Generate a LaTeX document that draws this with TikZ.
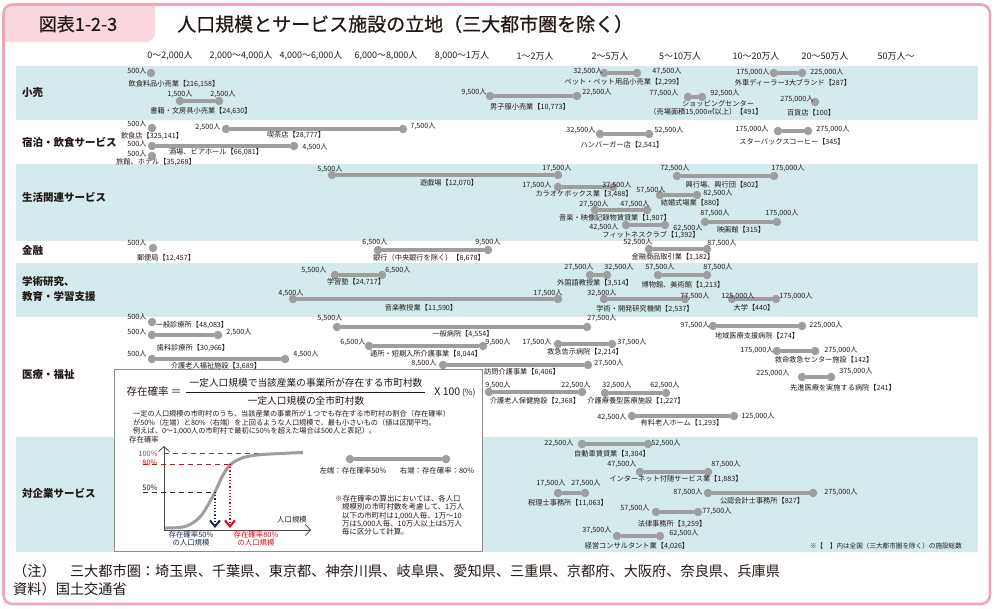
\documentclass[tikz,border=0pt]{standalone}
\usepackage{fontspec}
\setmainfont{Noto Sans CJK JP}
\newfontfamily\titlefont{Noto Sans CJK JP}[FakeBold=0.7]
\usetikzlibrary{arrows.meta}
\definecolor{pinkbd}{RGB}{240,165,185}
\definecolor{tabpink}{RGB}{250,214,222}
\definecolor{band}{RGB}{211,235,237}
\definecolor{dotgray}{RGB}{158,158,158}
\definecolor{ink}{RGB}{35,24,21}
\definecolor{redc}{RGB}{230,0,18}
\definecolor{navy}{RGB}{30,40,80}
\definecolor{boxgray}{RGB}{140,140,140}
\tikzset{
 dot/.style={circle, fill=dotgray, inner sep=0pt, minimum size=8.5pt},
 seg/.style={draw=dotgray, line width=3.3pt},
 lbl/.style={inner sep=0pt, text=ink, font=\fontsize{7.2}{8}\selectfont},
 hdr/.style={inner sep=0pt, text=ink, font=\fontsize{9}{10}\selectfont},
 cat/.style={inner sep=0pt, text=ink, anchor=west, align=left, font=\fontsize{10.5}{15}\selectfont\bfseries},
 expl/.style={inner sep=0pt, text=ink, font=\fontsize{7.4}{8.5}\selectfont},
 para/.style={inner sep=0pt, text=ink, font=\fontsize{7.2}{8.5}\selectfont},
 foot/.style={inner sep=0pt, anchor=west, text=ink, font=\fontsize{14.2}{16}\selectfont},
}
\newcommand\myrng[4]{\node[dot] (#1a) at (#2,#4) {}; \node[dot] (#1b) at (#3,#4) {}; \draw[seg] (#1a) -- (#1b);}
\newcommand\mysgl[3]{\node[dot] (#1a) at (#2,#3) {};}
\newcommand\mylb[4]{\node[lbl] (#1) at (#2,#3) {#4};}
\begin{document}
\begin{tikzpicture}[x=1pt,y=-1pt]
\useasboundingbox (0,0) rectangle (996,609);
\fill[white] (0,0) rectangle (996,609);
% title tab
\fill[tabpink, rounded corners=9pt] (5,5) rectangle (155,42);
\fill[tabpink] (5,20) rectangle (30,42);
\fill[tabpink] (130,5) rectangle (155,20);
\draw[pinkbd, line width=2.6pt, rounded corners=9pt] (3.5,4.5) rectangle (990,604);
\node[inner sep=0pt, text=ink, font=\fontsize{18}{20}\titlefont] (tabtxt) at (78,24) {図表1-2-3};
\node[inner sep=0pt, anchor=west, text=ink, font=\fontsize{19}{21}\titlefont] (title) at (177,24) {人口規模とサービス施設の立地（三大都市圏を除く）};
% bands
\fill[band] (16,66) rectangle (978,120);
\fill[band] (16,164) rectangle (978,241);
\fill[band] (16,263) rectangle (978,317);
\fill[band] (16,437) rectangle (978,552);
% headers
\node[hdr] (h1) at (170,56) {0～2,000人};
\node[hdr] (h2) at (241,56) {2,000～4,000人};
\node[hdr] (h3) at (311,56) {4,000～6,000人};
\node[hdr] (h4) at (386,56) {6,000～8,000人};
\node[hdr] (h5) at (462,56) {8,000～1万人};
\node[hdr] (h6) at (535,56) {1～2万人};
\node[hdr] (h7) at (610,56) {2～5万人};
\node[hdr] (h8) at (680,56) {5～10万人};
\node[hdr] (h9) at (756,56) {10～20万人};
\node[hdr] (h10) at (825,56) {20～50万人};
\node[hdr] (h11) at (896,56) {50万人～};
% categories
\node[cat] (c1) at (22,93) {小売};
\node[cat] (c2) at (22,142) {宿泊・飲食サービス};
\node[cat] (c3) at (22,197) {生活関連サービス};
\node[cat] (c4) at (22,250) {金融};
\node[cat] (c5) at (22,289) {学術研究、\\教育・学習支援};
\node[cat] (c6) at (22,375) {医療・福祉};
\node[cat] (c7) at (22,493) {対企業サービス};
% ---- 小売
\mysgl{A1}{151}{73} \mylb{A1l}{137}{71}{500人} \mylb{A1n}{174}{84}{飲食料品小売業【216,158】}
\myrng{A2}{180}{219}{101} \mylb{A2l}{180}{94}{1,500人} \mylb{A2r}{223}{94}{2,500人} \mylb{A2n}{201}{111}{書籍・文房具小売業【24,630】}
\myrng{A3}{604}{637}{73} \mylb{A3l}{588}{71}{32,500人} \mylb{A3r}{667}{71}{47,500人} \mylb{A3n}{624}{82}{ペット・ペット用品小売業【2,299】}
\myrng{A4}{490}{577}{96} \mylb{A4l}{474}{92}{9,500人} \mylb{A4r}{597}{92}{22,500人} \mylb{A4n}{530}{107}{男子服小売業【10,773】}
\myrng{A5}{774}{802}{73} \mylb{A5l}{753}{72}{175,000人} \mylb{A5r}{827}{72}{225,000人} \mylb{A5n}{793}{83}{外車ディーラー3大ブランド【287】}
\myrng{A6}{688}{702}{97} \mylb{A6l}{664}{93}{77,500人} \mylb{A6r}{725}{93}{92,500人} \mylb{A6n}{718}{104}{ショッピングセンター} \mylb{A6m}{706}{112}{（売場面積15,000㎡以上）【491】}
\mysgl{A7}{815}{102} \mylb{A7l}{797}{99}{275,000人} \mylb{A7n}{811}{113}{百貨店【100】}
% ---- 宿泊・飲食
\mysgl{B1}{152}{128} \mylb{B1l}{137}{124}{500人} \mylb{B1n}{152}{136}{飲食店【325,141】}
\myrng{B2}{226}{403}{129} \mylb{B2l}{208}{127}{2,500人} \mylb{B2r}{423}{126}{7,500人} \mylb{B2n}{296}{135}{喫茶店【28,777】}
\myrng{B3}{152}{294}{146} \mylb{B3l}{137}{144}{500人} \mylb{B3r}{315}{147}{4,500人} \mylb{B3n}{216}{152}{酒場、ビアホール【66,081】}
\mysgl{B4}{152}{156} \mylb{B4l}{137}{154}{500人} \mylb{B4n}{156}{162}{旅館、ホテル【35,268】}
\myrng{B5}{600}{649}{134} \mylb{B5l}{581}{130}{32,500人} \mylb{B5r}{669}{130}{52,500人} \mylb{B5n}{622}{145}{ハンバーガー店【2,541】}
\myrng{B6}{778}{808}{131} \mylb{B6l}{752}{129}{175,000人} \mylb{B6r}{833}{129}{275,000人} \mylb{B6n}{792}{142}{スターバックスコーヒー【345】}
% ---- 生活関連
\myrng{C1}{332}{558}{175} \mylb{C1l}{330}{169}{5,500人} \mylb{C1r}{557}{168}{17,500人} \mylb{C1n}{449}{183}{遊戯場【12,070】}
\myrng{C2}{558}{613}{187} \mylb{C2l}{537}{185}{17,500人} \mylb{C2r}{617}{185}{37,500人} \mylb{C2n}{584}{194}{カラオケボックス業【3,488】}
\myrng{C3}{677}{774}{176} \mylb{C3l}{675}{168}{72,500人} \mylb{C3r}{788}{168}{175,000人} \mylb{C3n}{724}{185}{興行場、興行団【802】}
\myrng{C4}{660}{697}{195} \mylb{C4l}{651}{190}{57,500人} \mylb{C4r}{718}{193}{82,500人} \mylb{C4n}{692}{203}{結婚式場業【880】}
\myrng{C5}{595}{647}{210} \mylb{C5l}{594}{204}{27,500人} \mylb{C5r}{635}{204}{47,500人} \mylb{C5n}{615}{218}{音楽・映像記録物賃貸業【1,907】}
\myrng{C6}{626}{665}{225} \mylb{C6l}{604}{227}{42,500人} \mylb{C6r}{688}{228}{62,500人} \mylb{C6n}{651}{235}{フィットネスクラブ【1,392】}
\myrng{C7}{705}{777}{222} \mylb{C7l}{715}{213}{87,500人} \mylb{C7r}{782}{213}{175,000人} \mylb{C7n}{741}{230}{映画館【315】}
% ---- 金融
\mysgl{D1}{153}{248} \mylb{D1l}{137}{243}{500人} \mylb{D1n}{166}{258}{郵便局【12,457】}
\myrng{D2}{378}{488}{250} \mylb{D2l}{375}{242}{6,500人} \mylb{D2r}{488}{242}{9,500人} \mylb{D2n}{429}{258}{銀行（中央銀行を除く）【8,678】}
\myrng{D3}{649}{707}{249} \mylb{D3l}{638}{242}{52,500人} \mylb{D3r}{722}{243}{87,500人} \mylb{D3n}{673}{257}{金融商品取引業【1,182】}
% ---- 学術・教育
\myrng{E1}{335}{382}{275} \mylb{E1l}{314}{270}{5,500人} \mylb{E1r}{398}{270}{6,500人} \mylb{E1n}{356}{282}{学習塾【24,717】}
\myrng{E2}{293}{558}{299} \mylb{E2l}{291}{293}{4,500人} \mylb{E2r}{548}{293}{17,500人} \mylb{E2n}{421}{308}{音楽教授業【11,590】}
\myrng{E3}{590}{607}{275} \mylb{E3l}{579}{267}{27,500人} \mylb{E3r}{619}{267}{32,500人} \mylb{E3n}{595}{283}{外国語教授業【3,514】}
\myrng{E4}{658}{707}{275} \mylb{E4l}{660}{267}{57,500人} \mylb{E4r}{718}{267}{87,500人} \mylb{E4n}{683}{285}{博物館、美術館【1,213】}
\myrng{E5}{604}{685}{299} \mylb{E5l}{602}{293}{32,500人} \mylb{E5r}{695}{296}{77,500人} \mylb{E5n}{645}{309}{学術・開発研究機関【2,537】}
\myrng{E6}{732}{776}{299} \mylb{E6l}{738}{296}{125,000人} \mylb{E6r}{796}{296}{175,000人} \mylb{E6n}{754}{308}{大学【440】}
% ---- 医療・福祉
\mysgl{F1}{152}{322} \mylb{F1l}{137}{317}{500人} \mylb{F1n}{192}{325}{一般診療所【48,083】}
\myrng{F2}{152}{218}{335} \mylb{F2l}{137}{332}{500人} \mylb{F2r}{239}{332}{2,500人} \mylb{F2n}{193}{348}{歯科診療所【30,966】}
\myrng{F3}{152}{285}{359} \mylb{F3l}{137}{354}{500人} \mylb{F3r}{306}{354}{4,500人} \mylb{F3n}{216}{366}{介護老人福祉施設【3,689】}
\myrng{F4}{337}{587}{327} \mylb{F4l}{330}{318}{5,500人} \mylb{F4r}{602}{318}{27,500人} \mylb{F4n}{463}{334}{一般病院【4,554】}
\myrng{F5}{369}{483}{346} \mylb{F5l}{353}{342}{6,500人} \mylb{F5r}{498}{342}{9,500人} \mylb{F5n}{426}{354}{通所・短期入所介護事業【8,044】}
\myrng{F6}{558}{612}{344} \mylb{F6l}{537}{342}{17,500人} \mylb{F6r}{632}{342}{37,500人} \mylb{F6n}{585}{352}{救急告示病院【2,214】}
\myrng{F7}{443}{588}{365} \mylb{F7l}{424}{363}{8,500人} \mylb{F7r}{609}{363}{27,500人} \mylb{F7n}{522}{372}{訪問介護事業【6,406】}
\myrng{F8}{489}{582}{392} \mylb{F8l}{498}{385}{9,500人} \mylb{F8r}{576}{385}{22,500人} \mylb{F8n}{535}{401}{介護老人保健施設【2,368】}
\myrng{F9}{605}{666}{393} \mylb{F9l}{617}{385}{32,500人} \mylb{F9r}{665}{385}{62,500人} \mylb{F9n}{636}{401}{介護療養型医療施設【1,227】}
\myrng{F10}{632}{734}{416} \mylb{F10l}{612}{417}{42,500人} \mylb{F10r}{758}{416}{125,000人} \mylb{F10n}{682}{423}{有料老人ホーム【1,293】}
\myrng{F11}{713}{802}{326} \mylb{F11l}{695}{325}{97,500人} \mylb{F11r}{826}{325}{225,000人} \mylb{F11n}{757}{336}{地域医療支援病院【274】}
\myrng{F12}{777}{815}{351} \mylb{F12l}{757}{350}{175,000人} \mylb{F12r}{841}{350}{275,000人} \mylb{F12n}{824}{360}{救命救急センター施設【142】}
\myrng{F13}{802}{831}{377} \mylb{F13l}{773}{373}{225,000人} \mylb{F13r}{856}{371}{375,000人} \mylb{F13n}{843}{388}{先進医療を実施する病院【241】}
% ---- 対企業サービス
\myrng{G1}{582}{648}{444} \mylb{G1l}{559}{443}{22,500人} \mylb{G1r}{666}{443}{52,500人} \mylb{G1n}{612}{454}{自動車賃貸業【3,304】}
\myrng{G2}{640}{708}{472} \mylb{G2l}{622}{464}{47,500人} \mylb{G2r}{726}{464}{87,500人} \mylb{G2n}{676}{479}{インターネット付随サービス業【1,883】}
\myrng{G3}{558}{585}{493} \mylb{G3l}{551}{483}{17,500人} \mylb{G3r}{586}{483}{27,500人} \mylb{G3n}{568}{503}{税理士事務所【11,063】}
\myrng{G4}{708}{813}{493} \mylb{G4l}{688}{492}{87,500人} \mylb{G4r}{841}{492}{275,000人} \mylb{G4n}{762}{501}{公認会計士事務所【827】}
\myrng{G5}{656}{698}{512} \mylb{G5l}{635}{508}{57,500人} \mylb{G5r}{717}{511}{77,500人} \mylb{G5n}{672}{524}{法律事務所【3,259】}
\myrng{G6}{617}{660}{536} \mylb{G6l}{597}{530}{37,500人} \mylb{G6r}{684}{533}{62,500人} \mylb{G6n}{637}{546}{経営コンサルタント業【4,026】}
\node[lbl, font=\fontsize{6.6}{7}\selectfont] (gnote) at (886,546) {※【　】内は全国（三大都市圏を除く）の施設総数};
% ---- explanation box
\node[draw=boxgray, line width=0.8pt, fill=white, minimum width=368pt, minimum height=182pt, anchor=north west, inner sep=0pt] (box) at (114,369) {};
\node[inner sep=0pt, text=ink, font=\fontsize{10.5}{12}\selectfont] (eqL) at (154,392) {存在確率 ＝};
\node[inner sep=0pt, text=ink, font=\fontsize{9.7}{11}\selectfont] (num) at (306,383) {一定人口規模で当該産業の事業所が存在する市町村数};
\node[inner sep=0pt, text=ink, font=\fontsize{9.7}{11}\selectfont] (den) at (306,401) {一定人口規模の全市町村数};
\coordinate (fr1) at (186,392); \coordinate (fr2) at (425,392);
\draw[ink, line width=0.7pt] (fr1) -- (fr2);
\node[inner sep=0pt, text=ink, font=\fontsize{10.5}{12}\selectfont] (x100) at (455,392) {X 100\,{\fontsize{8.5}{9}\selectfont(\%)}};
\node[para, anchor=west] (p1) at (133,414) {一定の人口規模の市町村のうち、当該産業の事業所が１つでも存在する市町村の割合（存在確率）};
\node[para, anchor=west] (p2) at (133,422.5) {が50\%（左端）と80\%（右端）を上回るような人口規模で、最も小さいもの（値は区間平均。};
\node[para, anchor=west] (p3) at (133,431) {例えば、0～1,000人の市町村で最初に50\%を超えた場合は500人と表記）。};
% graph
\node[expl, anchor=west] (ylab) at (129,440) {存在確率};
\coordinate (org) at (164,530);
\coordinate (ytop) at (164,446);
\coordinate (xend) at (311,530);
\draw[ink!80, line width=0.8pt, -{Straight Barb[length=5pt,width=11pt]}] (org) -- (ytop);
\draw[ink!80, line width=0.8pt, -{Straight Barb[length=5pt,width=11pt]}] (org) -- (xend);
\node[expl, text=ink!70] (p100) at (148,454) {100\%};
\node[expl, text=redc] (p80) at (150,463) {80\%};
\node[expl] (p50) at (150,488) {50\%};
\coordinate (d100a) at (164,453); \coordinate (d100b) at (303,453);
\coordinate (d80a) at (143,464); \coordinate (d80b) at (230,464);
\coordinate (d50a) at (143,492); \coordinate (d50b) at (215,492);
\draw[ink!75, dash pattern=on 5pt off 4pt, line width=0.8pt] (d100a) -- (d100b);
\draw[redc, dash pattern=on 5pt off 4pt, line width=0.8pt] (d80a) -- (d80b);
\draw[navy, dash pattern=on 5pt off 4pt, line width=0.8pt] (d50a) -- (d50b);
\draw[dotgray, line width=3pt] plot[smooth, tension=0.6] coordinates {(165,528) (185,526.5) (199,518) (208,505) (215,492) (222,477) (230,465) (242,458) (257,455) (280,453.5) (303,452.5)};
\coordinate (v50b) at (215,528); \coordinate (v80b) at (230,528);
\draw[navy, dotted, line width=1.2pt, -{Straight Barb[length=6pt,width=10pt,line width=2pt]}] (d50b) -- (v50b);
\draw[redc, dotted, line width=1.2pt, -{Straight Barb[length=6pt,width=10pt,line width=2pt]}] (d80b) -- (v80b);
\node[expl] (xlab) at (292,520) {人口規模};
\node[expl, text=navy, align=center] (q50) at (191,538.5) {存在確率50\%\\の人口規模};
\node[expl, text=redc, align=center] (q80) at (256,538.5) {存在確率80\%\\の人口規模};
% legend
\node[dot] (lgA) at (350,459) {}; \node[dot] (lgB) at (446,459) {};
\draw[seg] (lgA) -- (lgB);
\node[expl] (lgl) at (353,471) {左端：存在確率50\%};
\node[expl] (lgr) at (437,471) {右端：存在確率：80\%};
\node[expl, anchor=north west, align=left] (nt1) at (335,495) {※存在確率の算出においては、各人口};
\node[expl, anchor=north west, align=left, font=\fontsize{7.4}{8.3}\selectfont] (nt2) at (342,503.5) {規模別の市町村数を考慮して、1万人\\以下の市町村は1,000人毎、1万～10\\万は5,000人毎、10万人以上は5万人\\毎に区分して計算。};
% footer
\node[foot] (ft1) at (13,571) {（注）　三大都市圏：埼玉県、千葉県、東京都、神奈川県、岐阜県、愛知県、三重県、京都府、大阪府、奈良県、兵庫県};
\node[foot] (ft2) at (13,589) {資料）国土交通省};
\end{tikzpicture}
\end{document}
